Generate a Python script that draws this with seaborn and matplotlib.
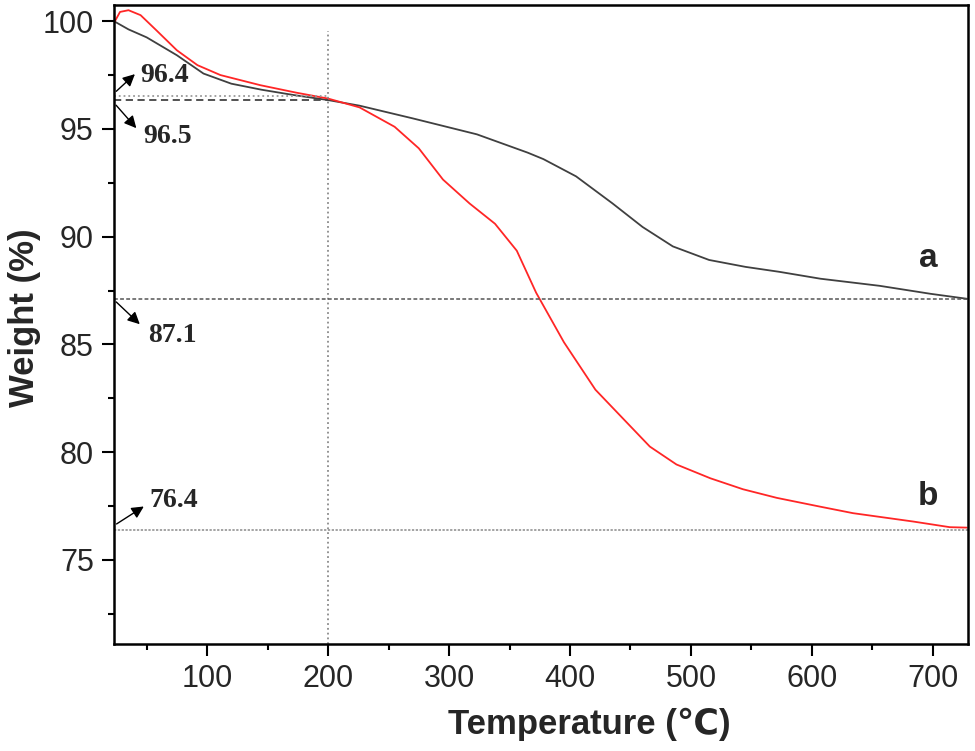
import numpy as np
import pandas as pd
import matplotlib
matplotlib.use("Agg")
import matplotlib.pyplot as plt
from matplotlib.ticker import MultipleLocator
import seaborn as sns

# curva a (negro)
temp_a = [23, 35, 50, 75, 97, 120, 145, 172, 200, 226, 270, 323, 365, 378, 405,
          435, 460, 485, 515, 545, 573, 607, 656, 698, 728]
peso_a = [100.0, 99.62, 99.25, 98.42, 97.57, 97.1, 96.82, 96.57, 96.34, 96.08,
          95.49, 94.75, 93.9, 93.6, 92.8, 91.55, 90.45, 89.55, 88.92, 88.6,
          88.37, 88.05, 87.72, 87.35, 87.12]

# curva b (rojo)
temp_b = [23, 28, 35, 45, 58, 75, 92, 111, 144, 174, 200, 226, 255, 275, 295,
          317, 338, 356, 372, 395, 421, 444, 466, 488, 516, 543, 571, 607, 634,
          684, 714, 728]
peso_b = [99.92, 100.43, 100.51, 100.28, 99.58, 98.65, 97.96, 97.5, 97.03, 96.68,
          96.41, 96.0, 95.1, 94.1, 92.65, 91.54, 90.6, 89.35, 87.4, 85.1, 82.9,
          81.55, 80.26, 79.43, 78.79, 78.28, 77.88, 77.47, 77.17, 76.78, 76.52, 76.5]

# lineas de referencia y etiquetas
nivel_sup = 96.52
nivel_inf = 96.32
nivel_a = 87.1
nivel_b = 76.4
temp_corte = 200
etiquetas = ["96.4", "96.5", "87.1", "76.4"]

df_a = pd.DataFrame({"Temperatura": temp_a, "Peso": peso_a})
df_b = pd.DataFrame({"Temperatura": temp_b, "Peso": peso_b})

sns.set_theme(style="ticks")
plt.rcParams["font.family"] = ["Liberation Sans", "DejaVu Sans"]

fig = plt.figure(figsize=(9.75, 7.51), dpi=100)
ax = fig.add_axes([0.1169, 0.1425, 0.8759, 0.8508])

sns.lineplot(data=df_a, x="Temperatura", y="Peso", color="#404040", linewidth=1.3, ax=ax)
sns.lineplot(data=df_b, x="Temperatura", y="Peso", color="#ff2626", linewidth=1.3, ax=ax)

# lineas guia
ax.plot([23, temp_corte], [nivel_sup, nivel_sup], color="#9a9a9a", linestyle=":", linewidth=1.3)
ax.plot([23, temp_corte], [nivel_inf, nivel_inf], color="#444444", linestyle=(0, (4, 2.5)), linewidth=1.3)
ax.plot([temp_corte, temp_corte], [70, 99.55], color="#8a8a8a", linestyle=":", linewidth=1.3)
ax.axhline(nivel_a, color="#555555", linestyle=(0, (2.5, 1.5)), linewidth=1.1)
ax.axhline(nivel_b, color="#8a8a8a", linestyle=(0, (1.5, 1)), linewidth=1.1)

flecha = dict(arrowstyle="-|>", color="black", lw=1.0, mutation_scale=18)
fuente = dict(family=["Liberation Serif", "DejaVu Serif"], weight="bold", fontsize=20)
ax.annotate("", xy=(42, 97.63), xytext=(23.2, 96.66), arrowprops=flecha)
ax.text(44.6, 97.17, etiquetas[0], **fuente)
ax.annotate("", xy=(43, 94.94), xytext=(23.2, 96.2), arrowprops=flecha)
ax.text(47.1, 94.34, etiquetas[1], **fuente)
ax.annotate("", xy=(46, 85.85), xytext=(23.2, 87.06), arrowprops=flecha)
ax.text(51.2, 85.13, etiquetas[2], **fuente)
ax.annotate("", xy=(49.6, 77.55), xytext=(23.2, 76.6), arrowprops=flecha)
ax.text(52.3, 77.47, etiquetas[3], **fuente)

ax.text(696, 88.6, "a", fontsize=24, fontweight="bold", ha="center")
ax.text(696, 77.55, "b", fontsize=24, fontweight="bold", ha="center")

ax.set_xlim(23, 729)
ax.set_ylim(71.1, 100.75)
ax.xaxis.set_major_locator(MultipleLocator(100))
ax.xaxis.set_minor_locator(MultipleLocator(50))
ax.yaxis.set_major_locator(MultipleLocator(5))
ax.yaxis.set_minor_locator(MultipleLocator(2.5))
ax.set_yticks([75, 80, 85, 90, 95, 100])

ax.tick_params(which="major", direction="out", length=8.5, width=1.5, labelsize=22, pad=6, color="black")
ax.tick_params(which="minor", direction="out", length=4.5, width=1.5, color="black")
for lado in ax.spines.values():
    lado.set_visible(True)
    lado.set_linewidth(1.8)
    lado.set_color("black")

ax.set_xlabel("Temperature (℃)", fontsize=25, fontweight="bold")
ax.set_ylabel("Weight (%)", fontsize=25, fontweight="bold")
ax.xaxis.set_label_coords(0.557, -0.1)
ax.yaxis.set_label_coords(-0.086, 0.51)

fig.savefig("out.png", dpi=100)
